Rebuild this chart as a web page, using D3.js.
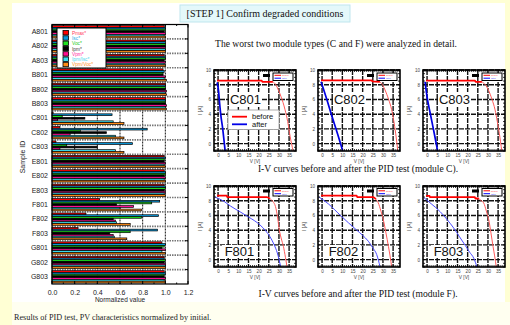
<!DOCTYPE html>
<html>
<head>
<meta charset="utf-8">
<script src="https://cdn.jsdelivr.net/npm/d3@7"></script>
<style>
  body { margin: 0; background: #ffffd4; }
  svg { display: block; }
</style>
</head>
<body>
<svg id="chart" width="510" height="325"></svg>
<script>
// ---- bar chart data (normalized by initial) ----
const samples = ['A801', 'A802', 'A803', 'B801', 'B802', 'B803', 'C801', 'C802', 'C803',
  'E801', 'E802', 'E803', 'F801', 'F802', 'F803', 'G801', 'G802', 'G803'];
const params = ['Pmax*', 'Isc*', 'Voc*', 'Ipm*', 'Vpm*', 'Ipm/Isc*', 'Vpm/Voc*'];
const paramColors = ['#ff0000', '#0a96d8', '#1fe01f', '#000000', '#ff1090', '#38dcee', '#ff8a14'];
const labelColors = ['#ff3a5a', '#2aa6e6', '#22cc22', '#444444', '#ff2aa0', '#48d6ee', '#ff9428'];

const pmax   = [0.99, 1.00, 0.99, 0.98, 1.00, 1.00, 0.01, 0.07, 0.035, 0.99, 0.99, 0.99, 0.42, 0.30, 0.23, 0.97, 0.99, 0.99];
const isc    = [1.00, 1.00, 1.00, 0.99, 1.00, 1.00, 0.53, 0.84, 0.71,  1.00, 1.00, 1.00, 0.95, 0.94, 0.93, 1.00, 0.99, 1.00];
const voc    = [1.00, 1.00, 1.00, 0.98, 1.00, 1.00, 0.09, 0.25, 0.13,  0.99, 1.00, 1.00, 0.88, 0.79, 0.69, 0.99, 1.00, 0.99];
const ipm    = [0.99, 1.00, 0.99, 0.98, 1.00, 1.00, 0.29, 0.48, 0.40,  0.99, 0.99, 0.99, 0.57, 0.54, 0.51, 0.97, 0.99, 0.99];
const vpm    = [1.00, 1.00, 1.00, 1.00, 1.01, 1.01, 0.05, 0.16, 0.07,  1.00, 1.00, 1.00, 0.72, 0.56, 0.54, 1.00, 1.00, 1.00];
const ipmIsc = [0.99, 1.00, 0.99, 0.99, 1.00, 1.00, 0.54, 0.56, 0.56,  0.99, 0.99, 0.99, 0.60, 0.57, 0.55, 0.97, 1.00, 0.99];
const vpmVoc = [1.00, 1.00, 1.00, 1.01, 1.01, 1.01, 0.635, 0.635, 0.635, 1.00, 1.00, 1.00, 0.79, 0.69, 0.66, 1.00, 1.00, 1.00];
const series = [pmax, isc, voc, ipm, vpm, ipmIsc, vpmVoc];
const xTicks = [0, 0.2, 0.4, 0.6, 0.8, 1.0, 1.2];

// ---- I-V curves [V, I] ----
const vTicks = [0, 5, 10, 15, 20, 25, 30, 35];
const iTicks = [0, 2, 4, 6, 8, 10];

const c801Before = [[-0.5, 8.55], [21.5, 8.55], [21.8, 8.4], [27, 8.4], [28.5, 8.0], [29.7, 7.3], [31, 6.4], [32, 5.6], [33, 4.6], [34.3, 3.0], [35.5, 1.0], [36.2, 0], [37, -1]];
const c801After  = [[-0.5, 8.3], [0.3, 7.0], [0.6, 6.0], [1.3, 4.0], [2.3, 2.0], [3.1, 0], [3.5, -1]];
const c802Before = [[-0.5, 8.6], [24.5, 8.6], [24.8, 8.45], [28.5, 8.4], [30, 7.9], [31, 7.3], [32.8, 6.0], [34.3, 4.6], [35.5, 2.8], [36.5, 0.9], [37.3, -1]];
const c802After  = [[-0.5, 8.4], [2, 6.3], [5, 3.6], [8, 1.0], [10.2, -1]];
const c803Before = [[-0.5, 8.55], [23.6, 8.55], [23.9, 8.4], [27, 8.4], [28.7, 8.0], [30.2, 7.3], [32, 6.0], [33.5, 4.6], [34.6, 3.0], [35.6, 1.4], [36.8, -1]];
const c803After  = [[-1, 8.4], [0.2, 6.0], [1.5, 4.2], [3.1, 2.0], [4.8, -0.4], [5.2, -1]];
const f801Before = [[-0.5, 8.7], [4.3, 8.7], [4.5, 8.5], [24, 8.5], [25.5, 8.3], [27, 7.9], [28.3, 7.2], [29.3, 5.8], [30.2, 4.0], [31.2, 2.8], [32.2, 1.8], [33.2, 0.3], [34, -1]];
const f801After  = [[-1.5, 8.5], [3, 7.9], [6, 7.3], [10.8, 6.5], [15, 5.8], [20.7, 4.7], [23.5, 3.9], [25.6, 3.1], [27.5, 2.1], [29.2, 0.9], [30.9, -1]];
const f802Before = [[-0.5, 8.7], [17, 8.7], [17.3, 8.5], [25.3, 8.5], [26.5, 8.2], [27.7, 7.7], [29, 6.6], [30.2, 5.4], [31.5, 3.6], [32.7, 1.8], [33.5, 0.5], [34.3, -1]];
const f802After  = [[-1.5, 8.5], [3, 7.6], [8.9, 6.05], [13, 5.0], [17.1, 4.0], [20, 3.3], [22.8, 2.5], [25, 1.6], [26.9, 0.7], [28.6, -1]];
const f803Before = [[-0.5, 8.65], [1.2, 8.65], [1.4, 8.5], [23.5, 8.5], [23.8, 8.3], [25.5, 8.3], [26.7, 8.0], [27.9, 7.7], [29.2, 6.6], [30.4, 5.4], [31.5, 3.6], [32.5, 1.8], [33.3, 0.5], [34.1, -1]];
const f803After  = [[-1.5, 8.4], [2, 7.6], [6.5, 6.5], [10, 5.4], [13.1, 4.3], [16, 3.1], [18.9, 1.9], [21, 1.0], [23, 0.2], [24.6, -1]];

const panels = [
  { name: 'C801', before: c801Before, after: c801After, x: 214, y: 70, row: 'C', legend: true },
  { name: 'C802', before: c802Before, after: c802After, x: 318, y: 70, row: 'C' },
  { name: 'C803', before: c803Before, after: c803After, x: 423, y: 70, row: 'C' },
  { name: 'F801', before: f801Before, after: f801After, x: 214, y: 186, row: 'F' },
  { name: 'F802', before: f802Before, after: f802After, x: 318, y: 186, row: 'F' },
  { name: 'F803', before: f803Before, after: f803After, x: 423, y: 186, row: 'F' }
];

const svg = d3.select('#chart');
const sans = 'Liberation Sans, Arial, sans-serif';
const serif = 'Liberation Serif, Times New Roman, serif';

// page background panels
svg.append('rect').attr('x', 12).attr('y', 3).attr('width', 493).attr('height', 299).attr('fill', '#ffffff');
svg.append('rect').attr('x', 12).attr('y', 302).attr('width', 498).attr('height', 23).attr('fill', '#fffff0');

// title
svg.append('rect').attr('x', 180).attr('y', 5).attr('width', 170).attr('height', 17)
  .attr('fill', '#e4f8fa').attr('stroke', '#bfe6ee');
svg.append('text').attr('x', 265).attr('y', 17).attr('text-anchor', 'middle')
  .style('font-family', serif).style('font-size', '10px').attr('fill', '#111')
  .text('[STEP 1] Confirm degraded conditions');
svg.append('text').attr('x', 336).attr('y', 47).attr('text-anchor', 'middle')
  .style('font-family', serif).style('font-size', '9.6px').attr('fill', '#111')
  .text('The worst two module types (C and F) were analyzed in detail.');

// ---------------- bar chart ----------------
const bx0 = 52, bx1 = 188, by0 = 24.5, by1 = 284;
const x = d3.scaleLinear().domain([0, 1.2]).range([bx0, bx1]);
const y = d3.scaleBand().domain(samples).range([by0, by1]);
const pitch = 1.75;

const bar = svg.append('g');

// vertical grid
bar.selectAll('.vg').data(xTicks.slice(1, -1)).join('line')
  .attr('x1', d => x(d)).attr('x2', d => x(d)).attr('y1', by0).attr('y2', by1)
  .attr('stroke', '#111').attr('stroke-width', 1).attr('stroke-dasharray', '2,1');

// horizontal grid at group boundaries
bar.selectAll('.hg').data(samples.slice(1)).join('line')
  .attr('x1', bx0).attr('x2', bx1).attr('y1', d => y(d)).attr('y2', d => y(d))
  .attr('stroke', '#777').attr('stroke-width', 1.6).attr('stroke-dasharray', '1.5,1');

// bars
samples.forEach((s, i) => {
  series.forEach((vals, j) => {
    bar.append('rect')
      .attr('x', x(0))
      .attr('y', y(s) + 1.1 + j * pitch)
      .attr('width', x(vals[i]) - x(0))
      .attr('height', pitch)
      .attr('fill', paramColors[j])
      .attr('stroke', '#000').attr('stroke-width', 0.7);
  });
});

// frame and ticks
bar.append('rect').attr('x', bx0).attr('y', by0).attr('width', bx1 - bx0).attr('height', by1 - by0)
  .attr('fill', 'none').attr('stroke', '#000').attr('stroke-width', 1.2);
const minorX = d3.range(0, 1.21, 0.1);
bar.selectAll('.tb').data(minorX).join('line')
  .attr('x1', d => x(d)).attr('x2', d => x(d)).attr('y1', by1).attr('y2', (d, i) => by1 - (i % 2 ? 1.5 : 3))
  .attr('stroke', '#000');
bar.selectAll('.tt').data(minorX).join('line')
  .attr('x1', d => x(d)).attr('x2', d => x(d)).attr('y1', by0).attr('y2', (d, i) => by0 + (i % 2 ? 1.5 : 3))
  .attr('stroke', '#000');
bar.selectAll('.tr').data(samples.slice(1)).join('line')
  .attr('x1', bx1).attr('x2', bx1 - 3).attr('y1', d => y(d)).attr('y2', d => y(d)).attr('stroke', '#000');

const xAxis = bar.append('g').attr('transform', `translate(0,${by1})`)
  .call(d3.axisBottom(x).tickValues(xTicks).tickFormat(d3.format('.1f')).tickSize(0).tickPadding(6));
xAxis.select('.domain').remove();
xAxis.selectAll('text').style('font-family', sans).style('font-size', '7px').attr('fill', '#222');

const yAxis = bar.append('g').attr('transform', `translate(${bx0},0)`)
  .call(d3.axisLeft(y).tickSize(0).tickPadding(4));
yAxis.select('.domain').remove();
yAxis.selectAll('text').style('font-family', sans).style('font-size', '7px').attr('fill', '#222');

bar.append('text').attr('x', 120).attr('y', 302).attr('text-anchor', 'middle')
  .style('font-family', sans).style('font-size', '6.5px').attr('fill', '#222').text('Normalized value');
bar.append('text').attr('transform', 'translate(25,157) rotate(-90)').attr('text-anchor', 'middle')
  .style('font-family', sans).style('font-size', '7px').attr('fill', '#222').text('Sample ID');

// legend
const lg = bar.append('g');
lg.append('rect').attr('x', 57).attr('y', 28).attr('width', 49).attr('height', 40)
  .attr('fill', '#fff').attr('stroke', '#000').attr('stroke-width', 1);
params.forEach((p, j) => {
  lg.append('rect').attr('x', 63).attr('y', 30.5 + j * 5.3).attr('width', 5.5).attr('height', 4.4)
    .attr('fill', paramColors[j]).attr('stroke', '#000').attr('stroke-width', 0.8);
  lg.append('text').attr('x', 72).attr('y', 34.6 + j * 5.3)
    .style('font-family', sans).style('font-size', '4.8px').attr('fill', labelColors[j]).text(p);
});

svg.append('text').attr('x', 14).attr('y', 320)
  .style('font-family', serif).style('font-size', '8.2px').attr('fill', '#222')
  .text('Results of PID test, PV characteristics normalized by initial.');

// ---------------- I-V panels ----------------
const pw = 82, ph = 81;
panels.forEach(p => {
  const g = svg.append('g');
  const vx = d3.scaleLinear().domain([-2, 38.4]).range([p.x, p.x + pw]);
  const iy = d3.scaleLinear().domain([-1, 10]).range([p.y + ph, p.y]);

  g.selectAll('.gv').data(vTicks).join('line')
    .attr('x1', d => vx(d)).attr('x2', d => vx(d)).attr('y1', p.y).attr('y2', p.y + ph)
    .attr('stroke', '#111').attr('stroke-width', 1.4).attr('stroke-dasharray', '5,1');
  g.selectAll('.gh').data(iTicks).join('line')
    .attr('x1', p.x).attr('x2', p.x + pw).attr('y1', d => iy(d)).attr('y2', d => iy(d))
    .attr('stroke', '#111').attr('stroke-width', 1.4).attr('stroke-dasharray', '5,1');

  // name box
  const c = p.row === 'C';
  const nb = c ? { x: p.x + 15, y: p.y + 22, w: 33, h: 15 } : { x: p.x + 8, y: p.y + 59, w: 35, h: 13 };
  g.append('rect').attr('x', nb.x).attr('y', nb.y).attr('width', nb.w).attr('height', nb.h).attr('fill', '#fff');
  g.append('text').attr('x', nb.x + nb.w / 2).attr('y', nb.y + nb.h / 2 + 4.6).attr('text-anchor', 'middle')
    .style('font-family', sans).style('font-size', '13px').attr('fill', '#111').text(p.name);

  if (p.legend) {
    g.append('rect').attr('x', p.x + 14).attr('y', p.y + 40).attr('width', 51).attr('height', 19.5)
      .attr('fill', '#fff').attr('stroke', '#999').attr('stroke-width', 0.8);
    g.append('line').attr('x1', p.x + 18).attr('x2', p.x + 33).attr('y1', p.y + 46.7).attr('y2', p.y + 46.7)
      .attr('stroke', '#f00').attr('stroke-width', 1.8);
    g.append('line').attr('x1', p.x + 18).attr('x2', p.x + 33).attr('y1', p.y + 54.3).attr('y2', p.y + 54.3)
      .attr('stroke', '#0000e8').attr('stroke-width', 1.8);
    g.append('text').attr('x', p.x + 38).attr('y', p.y + 49.2).style('font-family', sans)
      .style('font-size', '7.5px').attr('fill', '#111').text('before');
    g.append('text').attr('x', p.x + 38).attr('y', p.y + 56.8).style('font-family', sans)
      .style('font-size', '7.5px').attr('fill', '#111').text('after');
  }

  // small legend in corner
  const ly = c ? p.y + 3 : p.y + 2.5;
  g.append('rect').attr('x', p.x + 49).attr('y', ly + 1).attr('width', 7).attr('height', 3).attr('fill', '#000');
  g.append('rect').attr('x', p.x + 59).attr('y', ly).attr('width', 20).attr('height', 7.5)
    .attr('fill', '#fff').attr('stroke', '#000').attr('stroke-width', 1);
  g.append('line').attr('x1', p.x + 60.5).attr('x2', p.x + 67).attr('y1', ly + 2.3).attr('y2', ly + 2.3)
    .attr('stroke', '#f00').attr('stroke-width', 1);
  g.append('line').attr('x1', p.x + 60.5).attr('x2', p.x + 67).attr('y1', ly + 5.2).attr('y2', ly + 5.2)
    .attr('stroke', '#00f').attr('stroke-width', 1);
  g.append('text').attr('x', p.x + 68).attr('y', ly + 3.2).style('font-family', sans)
    .style('font-size', '2.4px').attr('fill', '#f44').text('before');
  g.append('text').attr('x', p.x + 68).attr('y', ly + 6.2).style('font-family', sans)
    .style('font-size', '2.4px').attr('fill', '#44f').text('after');

  // curves
  const line = d3.line().x(d => vx(d[0])).y(d => iy(d[1])).curve(d3.curveMonotoneX);
  const k = p.before.findIndex((d, i) => i > 2 && d[1] < 8.2);
  g.append('path').datum(p.before.slice(k - 1)).attr('d', line)
    .attr('fill', 'none').attr('stroke', '#ff5a5a').attr('stroke-width', 1);
  g.append('path').datum(p.before.slice(0, k)).attr('d', line)
    .attr('fill', 'none').attr('stroke', '#f00').attr('stroke-width', 1.8);
  g.append('path').datum(p.after).attr('d', line)
    .attr('fill', 'none').attr('stroke', c ? '#0000e0' : '#4a4aff').attr('stroke-width', c ? 1.7 : 1);

  // frame + minor ticks
  g.append('rect').attr('x', p.x).attr('y', p.y).attr('width', pw).attr('height', ph)
    .attr('fill', 'none').attr('stroke', '#000').attr('stroke-width', 1.6);
  const mv = d3.range(-2, 38.5, 1);
  g.selectAll('.mb').data(mv).join('line')
    .attr('x1', d => vx(d)).attr('x2', d => vx(d)).attr('y1', p.y + ph).attr('y2', p.y + ph - 2).attr('stroke', '#000').attr('stroke-width', 0.8);
  g.selectAll('.mt').data(mv).join('line')
    .attr('x1', d => vx(d)).attr('x2', d => vx(d)).attr('y1', p.y).attr('y2', p.y + 2).attr('stroke', '#000').attr('stroke-width', 0.8);
  const mi = d3.range(-1, 10.01, 0.5);
  g.selectAll('.ml').data(mi).join('line')
    .attr('x1', p.x).attr('x2', p.x + 2).attr('y1', d => iy(d)).attr('y2', d => iy(d)).attr('stroke', '#000').attr('stroke-width', 0.8);
  g.selectAll('.mr').data(mi).join('line')
    .attr('x1', p.x + pw).attr('x2', p.x + pw - 2).attr('y1', d => iy(d)).attr('y2', d => iy(d)).attr('stroke', '#000').attr('stroke-width', 0.8);

  const ax = g.append('g').attr('transform', `translate(0,${p.y + ph})`)
    .call(d3.axisBottom(vx).tickValues(vTicks).tickSize(0).tickPadding(2.5));
  ax.select('.domain').remove();
  ax.selectAll('text').style('font-family', sans).style('font-size', '4.6px').attr('fill', '#444');
  const ay = g.append('g').attr('transform', `translate(${p.x},0)`)
    .call(d3.axisLeft(iy).tickValues(iTicks).tickSize(0).tickPadding(3));
  ay.select('.domain').remove();
  ay.selectAll('text').style('font-family', sans).style('font-size', '4.6px').attr('fill', '#444');

  g.append('text').attr('x', p.x + pw / 2).attr('y', p.y + ph + 11.5).attr('text-anchor', 'middle')
    .style('font-family', sans).style('font-size', '4.8px').attr('fill', '#444').text('V [V]');
  g.append('text').attr('transform', `translate(${p.x - 12},${p.y + ph / 2}) rotate(-90)`).attr('text-anchor', 'middle')
    .style('font-family', sans).style('font-size', '5px').attr('fill', '#444').text('I [A]');
});

svg.append('text').attr('x', 358).attr('y', 171.5).attr('text-anchor', 'middle')
  .style('font-family', serif).style('font-size', '9.6px').attr('fill', '#111')
  .text('I-V curves before and after the PID test (module C).');
svg.append('text').attr('x', 358).attr('y', 296.5).attr('text-anchor', 'middle')
  .style('font-family', serif).style('font-size', '9.6px').attr('fill', '#111')
  .text('I-V curves before and after the PID test (module F).');
</script>
</body>
</html>
